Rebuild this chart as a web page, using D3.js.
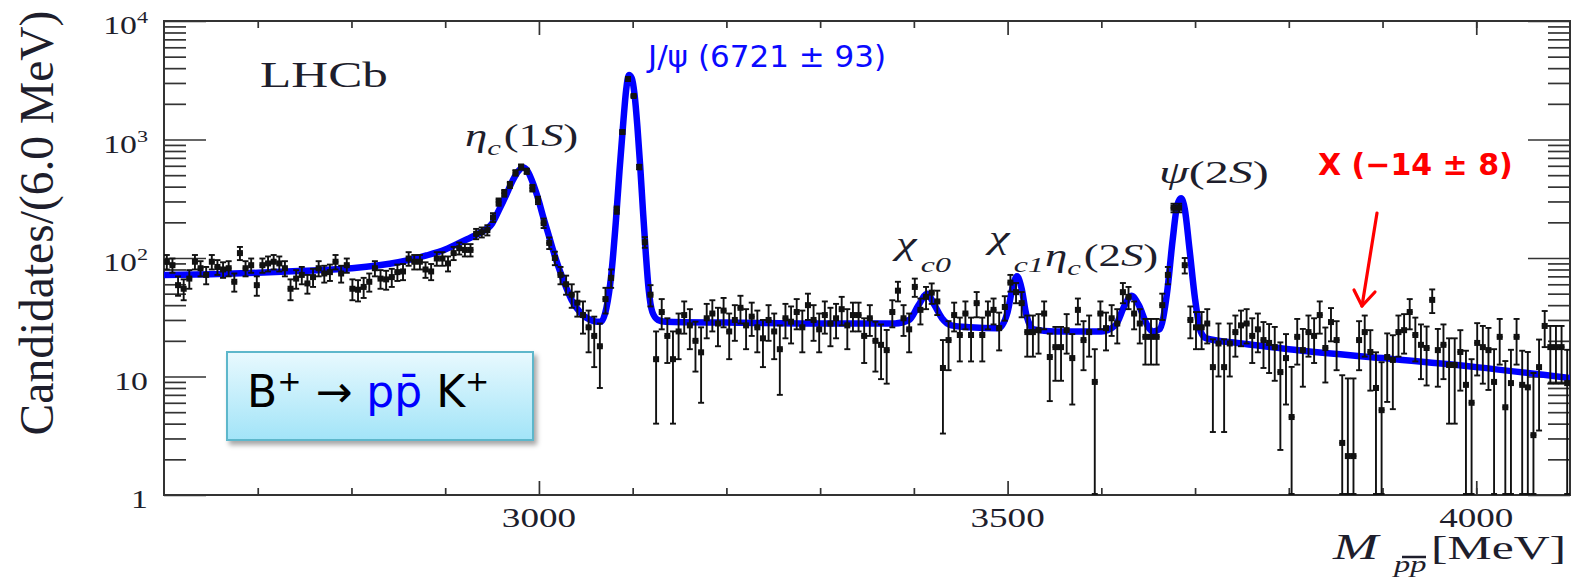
<!DOCTYPE html>
<html>
<head>
<meta charset="utf-8">
<script src="https://cdn.jsdelivr.net/npm/d3@7"></script>
<style>
  body { margin: 0; background: #fff; }
  svg { display: block; background: #fff; }
  .serif { font-family: "Liberation Serif", "Times New Roman", Times, serif; fill: #1e1e2c; }
  .sans { font-family: "DejaVu Sans", sans-serif; }
</style>
</head>
<body>
<svg id="chart" width="1576" height="577"></svg>
<script>
// histogram: 6 MeV bins starting at 2600 MeV
const binLow = 2600;
const binWidth = 6;

const counts = [
  93, 87, 59, 55, 67, 93, 82, 72, 93, 84,
  80, 82, 63, 110, 82, 87, 59, 87, 90, 93,
  90, 82, 55, 67, 72, 61, 69, 82, 74, 76,
  93, 74, 87, 55, 54, 57, 63, 82, 67, 66,
  69, 76, 77, 99, 93, 93, 80, 77, 99, 99,
  90, 110, 121, 117, 117, 160, 165, 172, 220, 297,
  352, 414, 523, 586, 540, 389, 307, 197, 134, 100,
  72, 60, 49, 42, 33, 26, 22, 18, 45, 68,
  254, 1156, 3240, 2330, 586, 136, 49, 14, 35, 22,
  14, 24, 33, 27, 20, 16, 31, 34, 28, 36,
  24, 30, 38, 27, 32, 26, 21, 30, 24, 17,
  31, 29, 35, 26, 40, 30, 25, 33, 28, 31,
  37, 27, 33, 33, 22, 31, 20, 18.5, 16.7, 35,
  53, 31, 25, 57, 36.5, 47, 51, 43, 11.8, 20.3,
  33, 22.4, 34, 22.4, 41.6, 22.4, 34, 36.5, 25.6, 38.6,
  62, 51.5, 41.6, 23.7, 23.7, 24.6, 34, 14.6, 17.7, 17.7,
  24.6, 14.3, 36.5, 20.3, 23.7, 9, 34, 25.6, 31, 28,
  51.5, 47, 34, 28, 21.6, 21.6, 21.6, 40, 72, 265,
  265, 87, 30, 26, 26, 28, 12, 19, 12, 19,
  23.7, 27, 28, 22, 25, 20.3, 19.2, 17.7, 10.9, 14.3,
  4.55, 21.6, 16.7, 23.7, 22, 33, 17.4, 28.8, 20.3, 2.75,
  2.13, 2.13, 20.3, 23.7, 16.1, 8.0, 5.2, 14.6, 13.8, 23.7,
  24.6, 35, 22.4, 18.5, 17.4, 44.3, 16.7, 18.5, 12.5, 12.5,
  16.1, 8.5, 6, 19.2, 17.7, 16.7, 9, 21.6, 5.5, 8.8,
  21.6, 8.5, 8.1, 3.2, 12, 26.7, 17.7, 17.7, 17.7, 8.8
];

const errors = [
  13, 12, 11, 11, 12, 13, 12, 12, 13, 12,
  12, 12, 11, 14, 12, 12, 11, 12, 13, 13,
  13, 12, 11, 12, 12, 11, 12, 12, 12, 12,
  13, 12, 12, 11, 11, 11, 11, 12, 12, 12,
  12, 12, 12, 13, 13, 13, 12, 12, 13, 13,
  13, 14, 14, 14, 14, 16, 16, 17, 19, 21,
  23, 25, 28, 30, 28, 25, 22, 18, 15, 13,
  12, 11, 11, 10, 10, 10, 10, 10, 11, 12,
  18, 36, 60, 50, 26, 14, 10, 10, 10, 9,
  10, 10, 10, 10, 9, 10, 10, 10, 10, 10,
  10, 10, 10, 10, 10, 10, 9, 10, 10, 10,
  10, 10, 10, 10, 10, 10, 9, 10, 10, 10,
  10, 10, 9, 9, 9, 9, 9, 9, 8, 9,
  10, 9, 9, 10, 9, 10, 10, 10, 8.5, 9,
  9, 9, 9, 9, 10, 9, 9, 9, 9, 9,
  10, 10, 10, 9, 9, 9, 9, 8.4, 8.5, 8.5,
  9, 8.5, 9, 9, 9, 8, 9, 9, 9, 9,
  10, 10, 9, 9, 9, 9, 9, 10, 12, 22,
  22, 13, 9, 9, 9, 9, 8.6, 9, 8.6, 9,
  9, 9, 9, 9, 9, 8.5, 8.5, 8.5, 8.5, 8.5,
  7.5, 9, 8.5, 9, 9, 10, 8.5, 9, 9, 7.5,
  7.5, 7.5, 9, 9, 8.5, 8, 8, 8.5, 8.5, 9,
  9, 10, 9, 9, 9, 10, 8.5, 9, 8.5, 8.5,
  8.5, 8, 8, 9, 9, 9, 8, 9, 8, 8,
  9, 8, 8, 7.5, 8.5, 9, 9, 9, 9, 8
];

// fitted model
const fitMass = [
  2600, 2650, 2700, 2750, 2800, 2850, 2880, 2900, 2920, 2937,
  2950, 2958, 2965, 2972, 2978, 2983, 2988, 2994, 3000, 3004,
  3010, 3015, 3020, 3026, 3035, 3045, 3055, 3062, 3066, 3072,
  3077, 3082, 3086, 3090, 3093, 3096, 3099, 3102, 3105, 3108,
  3111, 3114, 3117, 3121, 3127, 3135, 3200, 3300, 3380, 3395,
  3405, 3414, 3422, 3430, 3440, 3460, 3490, 3500, 3505, 3510,
  3515, 3520, 3528, 3550, 3600, 3615, 3625, 3632, 3640, 3648,
  3655, 3662, 3670, 3676, 3681, 3685, 3689, 3694, 3700, 3706,
  3712, 3750, 3800, 3900, 4000, 4100
];
const fitValue = [
  72, 73, 75, 78, 82, 92, 105, 118, 140, 163,
  195, 260, 340, 450, 540, 580, 540, 420, 300, 230,
  160, 117, 88, 65, 44, 34, 30, 29, 29, 38,
  70, 200, 550, 1400, 2600, 3500, 3300, 2400, 1300, 600,
  250, 110, 55, 35, 30, 29, 28.5, 28, 28, 30,
  40, 50, 40, 31, 27, 26, 25.5, 35, 55, 70,
  55, 33, 25, 24, 24, 27, 40, 48, 40, 28,
  24, 25, 50, 140, 280, 320, 260, 120, 45, 24,
  21, 19, 17, 14.3, 12, 9.7
];

const xMajorTicks = [3000, 3500, 4000];
const xMinorTicks = [2700, 2800, 2900, 3100, 3200, 3300, 3400, 3600, 3700, 3800, 3900, 4000];
const yMajorTicks = [1, 10, 100, 1000, 10000];
const yTickLabels = [["1", ""], ["10", ""], ["10", "2"], ["10", "3"], ["10", "4"]];

const svg = d3.select("#chart");
const x = d3.scaleLinear().domain([2600, 4100]).range([164, 1570]);
const y = d3.scaleLog().domain([1, 1e4]).range([495, 21]);

const yMinorTicks = d3.range(0, 4).flatMap(d => d3.range(2, 10).map(i => i * 10 ** d));

const defs = svg.append("defs");
defs.append("clipPath").attr("id", "plot")
    .append("rect").attr("x", 164).attr("y", 21).attr("width", 1406).attr("height", 474);
const grad = defs.append("linearGradient").attr("id", "boxFill")
    .attr("x1", 0).attr("y1", 0).attr("x2", 0).attr("y2", 1);
grad.append("stop").attr("offset", 0).attr("stop-color", "#e8f9fe");
grad.append("stop").attr("offset", 1).attr("stop-color", "#a2e4f8");
defs.append("filter").attr("id", "shadow").attr("x", "-10%").attr("y", "-10%").attr("width", "130%").attr("height", "140%")
    .append("feDropShadow").attr("dx", 3).attr("dy", 4).attr("stdDeviation", 2.5)
    .attr("flood-color", "#000").attr("flood-opacity", 0.35);

// frame ticks
function ticks(axis, tx, ty, values, size) {
    svg.append("g")
        .attr("transform", `translate(${tx},${ty})`)
        .attr("color", "#333")
        .call(axis.tickValues(values).tickSize(size).tickFormat(""))
        .call(g => g.select(".domain").remove())
        .selectAll("line").attr("stroke-width", 1.7);
}
ticks(d3.axisRight(y), 164, 0, yMinorTicks, 22);
ticks(d3.axisRight(y), 164, 0, yMajorTicks, 42);
ticks(d3.axisLeft(y), 1570, 0, yMinorTicks, 22);
ticks(d3.axisLeft(y), 1570, 0, yMajorTicks, 42);
ticks(d3.axisTop(x), 0, 495, xMinorTicks, 7);
ticks(d3.axisTop(x), 0, 495, xMajorTicks, 14);
ticks(d3.axisBottom(x), 0, 21, xMinorTicks, 7);
ticks(d3.axisBottom(x), 0, 21, xMajorTicks, 14);

svg.append("rect")
    .attr("x", 164).attr("y", 21).attr("width", 1406).attr("height", 474)
    .attr("fill", "none").attr("stroke", "#333").attr("stroke-width", 2);

// tick labels (the scanned figure is stretched sideways)
yMajorTicks.forEach((v, i) => {
    const t = svg.append("g")
        .attr("transform", `translate(148,${y(v) + 13}) scale(1.3,1)`)
        .append("text").attr("class", "serif").attr("font-size", 26).attr("text-anchor", "end");
    t.append("tspan").text(yTickLabels[i][0]);
    if (yTickLabels[i][1]) t.append("tspan").attr("font-size", 17).attr("dy", -11).text(yTickLabels[i][1]);
});
xMajorTicks.forEach(v => {
    svg.append("g")
        .attr("transform", `translate(${x(v)},527) scale(1.35,1)`)
        .append("text").attr("class", "serif").attr("font-size", 27.5).attr("text-anchor", "middle")
        .text(d3.format("d")(v));
});

// axis titles
svg.append("text").attr("class", "serif")
    .attr("transform", "translate(53,223) rotate(-90)")
    .attr("font-size", 47.5).attr("text-anchor", "middle")
    .text("Candidates/(6.0 MeV)");

svg.append("g").attr("transform", "translate(1333,559) scale(1.55,1)")
    .append("text").attr("class", "serif").attr("font-size", 35).attr("font-style", "italic").text("M");
svg.append("g").attr("transform", "translate(1394,572) scale(1.35,1)")
    .append("text").attr("class", "serif").attr("font-size", 24).attr("font-style", "italic").text("pp");
svg.append("g").attr("transform", "translate(1431,559) scale(1.44,1)")
    .append("text").attr("class", "serif").attr("font-size", 34.5).text("[MeV]");
svg.append("line").attr("x1", 1402).attr("x2", 1426).attr("y1", 557).attr("y2", 557)
    .attr("stroke", "#1e1e2c").attr("stroke-width", 2.5);

// fit curve
const plot = svg.append("g").attr("clip-path", "url(#plot)");
const fit = d3.zip(fitMass, fitValue);
plot.append("path")
    .attr("d", d3.line().x(d => x(d[0])).y(d => y(d[1])).curve(d3.curveMonotoneX)(fit))
    .attr("fill", "none").attr("stroke", "#0000ff").attr("stroke-width", 6.5)
    .attr("stroke-linejoin", "round").attr("stroke-linecap", "round");

// data points with error bars
const low = d => y(Math.max(d.v - d.e, 1.02));
const points = counts.map((v, i) => ({ m: binLow + binWidth * (i + 0.5), v, e: errors[i] }));
const pg = plot.selectAll("g.pt").data(points).join("g").attr("class", "pt")
    .attr("stroke", "#111").attr("stroke-width", 1.9);
pg.append("line")
    .attr("x1", d => x(d.m)).attr("x2", d => x(d.m))
    .attr("y1", d => y(d.v + d.e)).attr("y2", low);
pg.append("line")
    .attr("x1", d => x(d.m) - 3).attr("x2", d => x(d.m) + 3)
    .attr("y1", d => y(d.v + d.e)).attr("y2", d => y(d.v + d.e));
pg.append("line")
    .attr("x1", d => x(d.m) - 3).attr("x2", d => x(d.m) + 3)
    .attr("y1", low).attr("y2", low);
pg.append("line")
    .attr("x1", d => x(d.m - binWidth / 2)).attr("x2", d => x(d.m + binWidth / 2))
    .attr("y1", d => y(d.v)).attr("y2", d => y(d.v));
pg.append("rect")
    .attr("x", d => x(d.m) - 3).attr("y", d => y(d.v) - 3)
    .attr("width", 6).attr("height", 6).attr("fill", "#111").attr("stroke", "none");

// LHCb tag
svg.append("g").attr("transform", "translate(260,87) scale(1.42,1)")
    .append("text").attr("class", "serif").attr("font-size", 36).text("LHCb");

// resonance labels
function resonance(tx, ty, sx, parts) {
    const t = svg.append("g").attr("transform", `translate(${tx},${ty}) scale(${sx},1)`)
        .append("text").attr("class", "serif").attr("font-size", 32);
    parts.forEach(p => {
        const s = t.append("tspan").text(p.t);
        if (p.i) s.attr("font-style", "italic");
        if (p.small) s.attr("font-size", 22);
        if (p.dy) s.attr("dy", p.dy);
        if (p.dx) s.attr("dx", p.dx);
    });
}
resonance(465, 146, 1.4, [{ t: "η", i: 1 }, { t: "c", i: 1, small: 1, dy: 9 }, { t: "(1", dy: -9, dx: 2 }, { t: "S", i: 1 }, { t: ")" }]);
resonance(896, 254, 1.45, [{ t: "χ", i: 1 }, { t: "c0", i: 1, small: 1, dy: 18, dx: 3 }]);
resonance(989, 248, 1.45, [{ t: "χ", i: 1 }, { t: "c1", i: 1, small: 1, dy: 24, dx: 3 }]);
resonance(1045, 266, 1.4, [{ t: "η", i: 1 }, { t: "c", i: 1, small: 1, dy: 9 }, { t: "(2", dy: -9, dx: 2 }, { t: "S", i: 1 }, { t: ")" }]);
resonance(1159, 183, 1.5, [{ t: "ψ", i: 1 }, { t: "(2" }, { t: "S", i: 1 }, { t: ")" }]);

// annotations
svg.append("text").attr("class", "sans").attr("x", 648).attr("y", 67)
    .attr("font-size", 31).attr("fill", "#0a0aff").text("J/ψ (6721 ± 93)");
svg.append("text").attr("class", "sans").attr("x", 1318).attr("y", 175)
    .attr("font-size", 30).attr("font-weight", "bold").attr("fill", "#ff0000").text("X (−14 ± 8)");
const arrow = svg.append("g").attr("stroke", "#ff0000").attr("stroke-width", 3.2)
    .attr("fill", "none").attr("stroke-linecap", "round").attr("stroke-linejoin", "round");
arrow.append("line").attr("x1", 1377).attr("y1", 213).attr("x2", 1362).attr("y2", 306);
arrow.append("polyline").attr("points", "1354,290 1362,306 1375,292");

// decay box
svg.append("rect").attr("x", 227).attr("y", 352).attr("width", 306).attr("height", 88)
    .attr("fill", "url(#boxFill)").attr("stroke", "#5db7cb").attr("stroke-width", 2)
    .attr("filter", "url(#shadow)");
const decay = svg.append("text").attr("class", "sans").attr("x", 247).attr("y", 407)
    .attr("font-size", 44).attr("fill", "#000");
decay.append("tspan").text("B");
decay.append("tspan").attr("font-size", 29).attr("dy", -16).text("+");
decay.append("tspan").attr("dy", 16).text(" → ");
decay.append("tspan").attr("fill", "#0000ff").text("pp̄");
decay.append("tspan").text(" K");
decay.append("tspan").attr("font-size", 29).attr("dy", -16).text("+");
</script>
</body>
</html>
